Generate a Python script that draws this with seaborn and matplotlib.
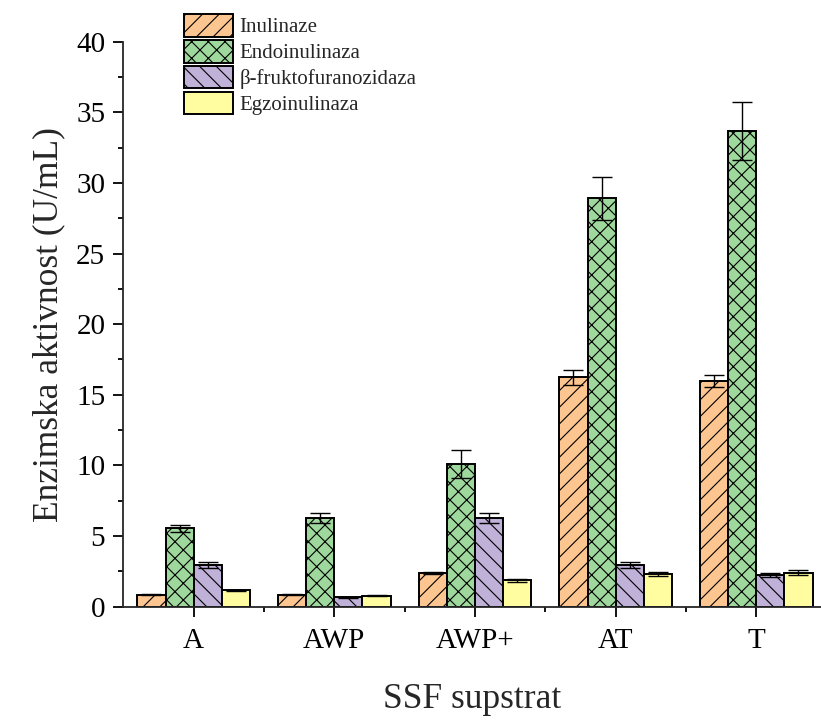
import matplotlib
matplotlib.use('Agg')
import matplotlib.pyplot as plt
import matplotlib.ticker as mticker
import pandas as pd
import seaborn as sns
import numpy as np

# data
substrates = ['A', 'AWP', 'AWP+', 'AT', 'T']
enzymes = ['Inulinaze', 'Endoinulinaza', 'β-fruktofuranozidaza', 'Egzoinulinaza']

inulinaze = [0.85, 0.85, 2.36, 16.25, 16.0]
inulinaze_err = [0.03, 0.03, 0.06, 0.53, 0.43]
endo = [5.55, 6.25, 10.12, 28.9, 33.68]
endo_err = [0.24, 0.36, 1.0, 1.55, 2.03]
beta = [2.93, 0.66, 6.26, 2.93, 2.22]
beta_err = [0.2, 0.02, 0.35, 0.2, 0.14]
egzo = [1.15, 0.78, 1.87, 2.32, 2.39]
egzo_err = [0.06, 0.03, 0.1, 0.17, 0.18]

colors = ['#FDC690', '#9FD89D', '#BFB1D7', '#FFFD9F']
hatches = ['//', 'xx', '\\\\', '']

values = [inulinaze, endo, beta, egzo]
errors = [inulinaze_err, endo_err, beta_err, egzo_err]

rows = []
for enz, vals, errs in zip(enzymes, values, errors):
    for s, v, e in zip(substrates, vals, errs):
        rows.append({'supstrat': s, 'enzim': enz, 'aktivnost': v, 'err': e})
df = pd.DataFrame(rows)

sns.set_style('ticks')
plt.rcParams['font.family'] = ['Liberation Serif', 'DejaVu Serif']
plt.rcParams['hatch.linewidth'] = 0.8
plt.rcParams['hatch.color'] = 'black'

fig = plt.figure(figsize=(8.21, 7.2), dpi=100)
ax = fig.add_axes([0.1502, 0.1574, 0.8498, 0.7847])

sns.barplot(data=df, x='supstrat', y='aktivnost', hue='enzim', order=substrates,
            hue_order=enzymes, palette=colors, errorbar=None, width=0.8,
            edgecolor='black', linewidth=1.4, saturation=1, ax=ax)

bar_containers = list(ax.containers)
for cont, h, errs in zip(bar_containers, hatches, errors):
    xs = []
    ys = []
    for bar in cont:
        bar.set_hatch(h)
        bar.set_edgecolor('black')
        xs.append(bar.get_x() + bar.get_width() / 2)
        ys.append(bar.get_height())
    ax.errorbar(xs, ys, yerr=errs, fmt='none', ecolor='black', elinewidth=1.0,
                capsize=7, capthick=1.0, zorder=3)

ax.set_ylim(0, 40)
ax.set_xlim(-0.5, 4.46)
ax.yaxis.set_major_locator(mticker.MultipleLocator(5))
ax.yaxis.set_minor_locator(mticker.MultipleLocator(2.5))
ax.xaxis.set_minor_locator(mticker.FixedLocator(np.arange(0.5, 4.5, 1)))

sns.despine(ax=ax)
for sp in ['left', 'bottom']:
    ax.spines[sp].set_linewidth(1.3)
ax.tick_params(axis='both', which='major', direction='out', length=7, width=1.3,
               labelsize=21, pad=6, color='black', labelcolor='black')
ax.tick_params(axis='x', which='major', pad=8)
ax.tick_params(axis='both', which='minor', direction='out', length=3.8, width=1.3,
               color='black')

ax.set_xlabel('SSF supstrat', fontsize=25.5, labelpad=21)
ax.set_ylabel('Enzimska aktivnost (U/mL)', fontsize=25.5, labelpad=8)

leg = ax.legend([c.patches[0] for c in bar_containers], enzymes, loc='upper left',
                bbox_to_anchor=(184 / 821, 1 - 14 / 720), bbox_transform=fig.transFigure,
                frameon=False, fontsize=15, borderpad=0, borderaxespad=0,
                labelspacing=0.12, handlelength=2.35, handleheight=1.3,
                handletextpad=0.3)

plt.savefig('out.png', dpi=100)
plt.close()
